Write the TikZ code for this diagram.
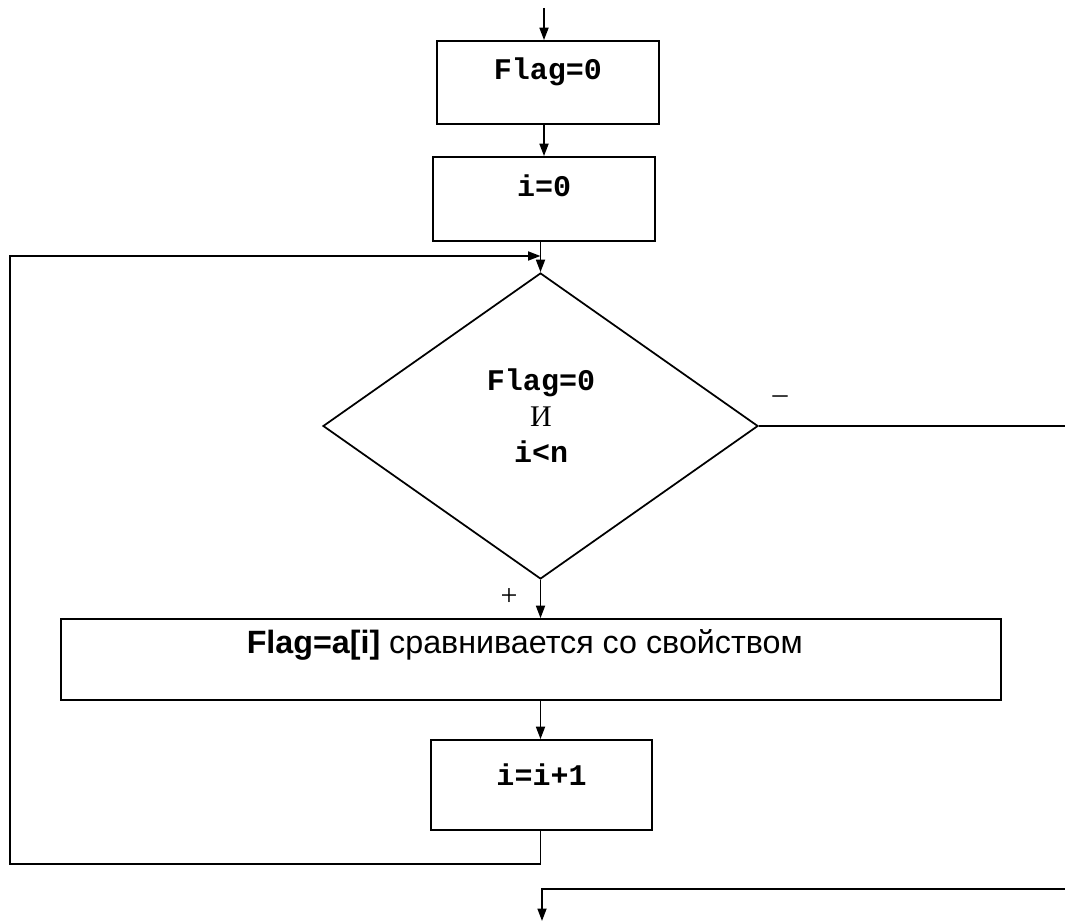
\documentclass[tikz,border=0pt]{standalone}
\usepackage{fontspec}
\setmainfont{Liberation Serif}
\setsansfont{Liberation Sans}
\setmonofont{Liberation Mono}
\usetikzlibrary{shapes.geometric,arrows.meta}

\begin{document}
\begin{tikzpicture}[x=0.4pt, y=-0.4pt,
	ln/.style={line width=0.7pt},
	arr/.style={line width=0.7pt, -{Triangle[length=5pt,width=3.6pt]}},
	blk/.style={draw, line width=0.7pt, rectangle, inner sep=0pt, font=\ttfamily\bfseries\fontsize{12}{14}\selectfont, text height=7pt, text depth=9pt},
	dec/.style={draw, line width=0.7pt, diamond, inner sep=0pt, minimum width=174pt, minimum height=122.4pt},
	lbl/.style={inner sep=0pt, font=\rmfamily\fontsize{12}{14}\selectfont}]
	\useasboundingbox (0,0) rectangle (1065,924);
	\node[blk, minimum width=88.8pt, minimum height=33.2pt] (init) at (548,82.5) {Flag=0};
	\node[blk, minimum width=88.8pt, minimum height=33.6pt] (idx) at (544,199) {i=0};
	\node[dec] (cond) at (540.5,426) {};
	\node[align=center, inner sep=0pt, font=\fontsize{12}{14.4}\selectfont] (condtxt) at (541,416)
		{{\ttfamily\bfseries Flag=0}\\{\rmfamily И}\\{\ttfamily\bfseries i<n}};
	\node[blk, font=\sffamily\fontsize{12.9}{15}\selectfont, text depth=12pt, minimum width=376pt, minimum height=32.4pt] (cmp) at (531,659.5)
		{\hspace*{-5pt}\textbf{Flag=a[i]} сравнивается со свойством};
	\node[blk, text depth=7pt, minimum width=88.4pt, minimum height=36pt] (inc) at (541.5,785) {i=i+1};
	\node[lbl] (minus) at (780,400) {–};
	\node[lbl] (plus) at (509,597) {+};
	\coordinate (top) at (544,8);
	\coordinate (lb) at (10,864);
	\coordinate (lt) at (10,256);
	\coordinate (rx) at (1065,426);
	\coordinate (bx) at (1065,889);
	\coordinate (bj) at (542,889);
	\coordinate (fin) at (542,921);
	\draw[arr] (top) -- (init.north -| top);
	\draw[arr] (init.south -| idx) -- (idx.north);
	\draw[arr] (idx.south -| cond.north) -- (cond.north);
	\draw[arr] (cond.south) -- (cmp.north -| cond.south);
	\draw[arr] (cmp.south -| cond.south) -- (inc.north -| cond.south);
	\draw[arr] (inc.south -| cond.south) -- (cond.south |- lb) -- (lb) -- (lt) -- (lt -| cond.north);
	\draw[ln] (cond.east) -- (rx);
	\draw[arr] (bx) -- (bj) -- (fin);
\end{tikzpicture}
\end{document}
